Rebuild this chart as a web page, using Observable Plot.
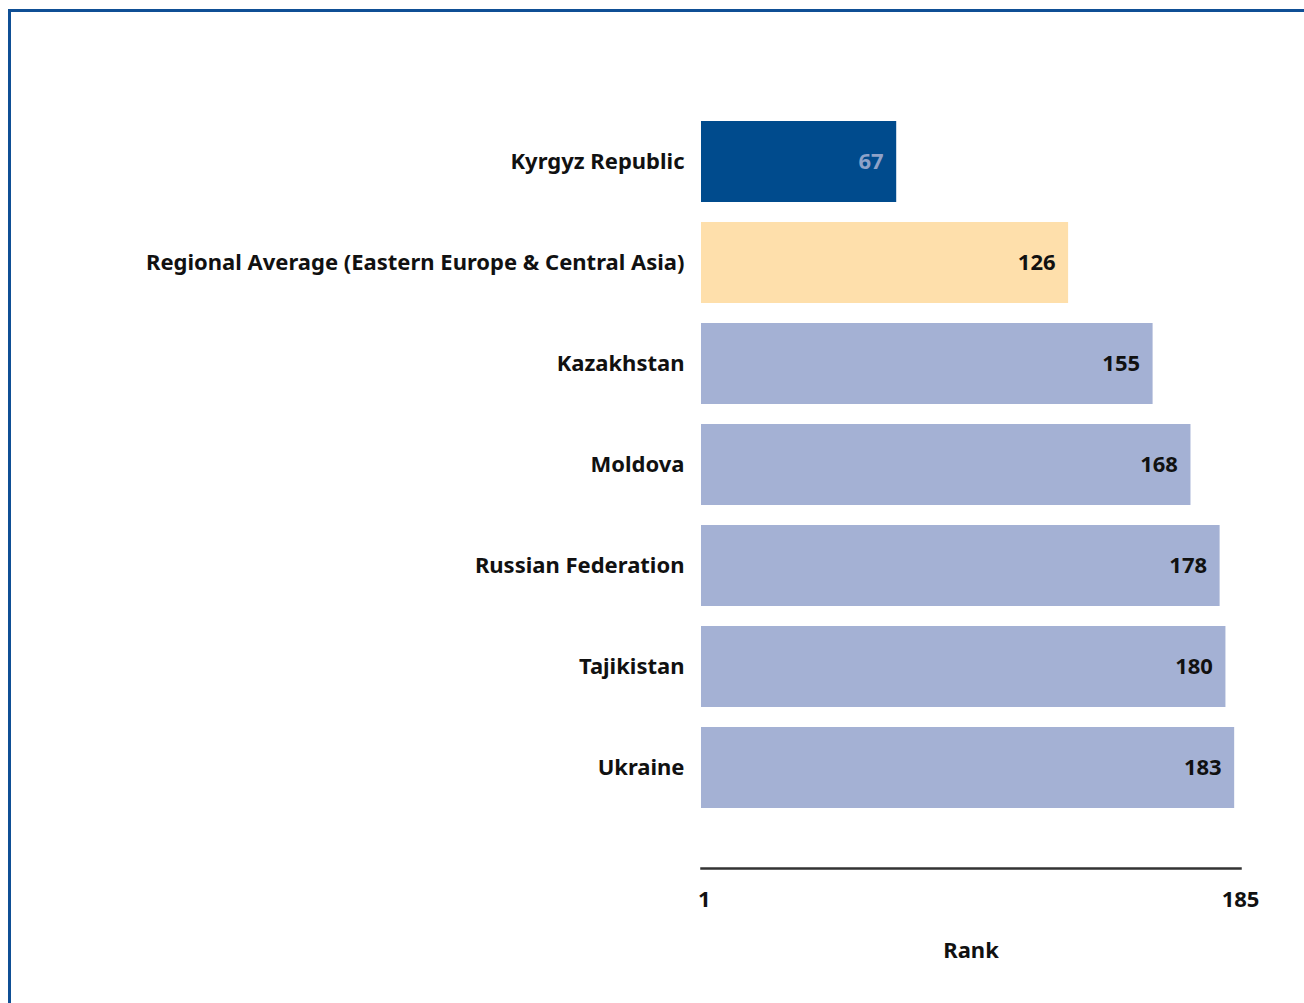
<!DOCTYPE html>
<html>
<head>
<meta charset="utf-8">
<script src="https://cdn.jsdelivr.net/npm/d3@7"></script>
<script src="https://cdn.jsdelivr.net/npm/@observablehq/plot@0.6"></script>
<style>
  html, body { margin: 0; padding: 0; background: #fff; }
  #wrap { position: relative; width: 1304px; height: 1003px; overflow: hidden; }
  #frame { position: absolute; left: 8px; top: 9px; right: -10px; bottom: -10px;
           border-left: 3px solid #0f4f95; border-top: 3px solid #0f4f95; }
  #chart { position: absolute; left: 0; top: 0; }
</style>
</head>
<body>
<div id="wrap"><div id="frame"></div><div id="chart"></div></div>
<script>
const countries = ["Kyrgyz Republic", "Regional Average (Eastern Europe & Central Asia)", "Kazakhstan", "Moldova", "Russian Federation", "Tajikistan", "Ukraine"];
const ranks = [67, 126, 155, 168, 178, 180, 183];
const groups = ["focus", "average", "peer", "peer", "peer", "peer", "peer"];
const tickValues = [1, 185];
const axisTitle = "Rank";

const data = countries.map((c, i) => ({country: c, rank: ranks[i], group: groups[i]}));
const fill = {focus: "#004b8d", average: "#fedfab", peer: "#a4b1d4"};
const labelColor = {focus: "#8ea2c8", average: "#111", peer: "#111"};

const font = "'Noto Sans', sans-serif";
const chart = Plot.plot({
  width: 1304,
  height: 1003,
  marginLeft: 701,
  marginRight: 64,
  marginTop: 110,
  marginBottom: 135,
  style: {fontFamily: font, fontSize: "22px", fontWeight: "bold", color: "#111", background: "transparent"},
  x: {domain: [0, 185]},
  y: {domain: countries, range: [110.5, 818], paddingInner: 0.2, paddingOuter: 0.1},
  marks: [
    Plot.barX(data, {y: "country", x: "rank", fill: d => fill[d.group]}),
    Plot.text(data, {y: "country", x: "rank", text: d => String(d.rank), textAnchor: "end", dx: -13,
      fill: d => labelColor[d.group], fontSize: 22, fontWeight: "bold"}),
    Plot.axisY({tickSize: 0, tickPadding: 17, label: null, fontSize: 22, fontWeight: "bold"}),
    Plot.axisX({ticks: tickValues, tickSize: 0, tickPadding: 23, tickFormat: d => String(d), label: null, fontSize: 22, fontWeight: "bold"}),
    Plot.frame({anchor: "bottom", stroke: "#333", strokeWidth: 2.5}),
    Plot.text([axisTitle], {x: 92.5, frameAnchor: "bottom", dy: 89, text: d => d, fontSize: 22, fontWeight: "bold"})
  ]
});
document.getElementById("chart").appendChild(chart);
</script>
</body>
</html>
